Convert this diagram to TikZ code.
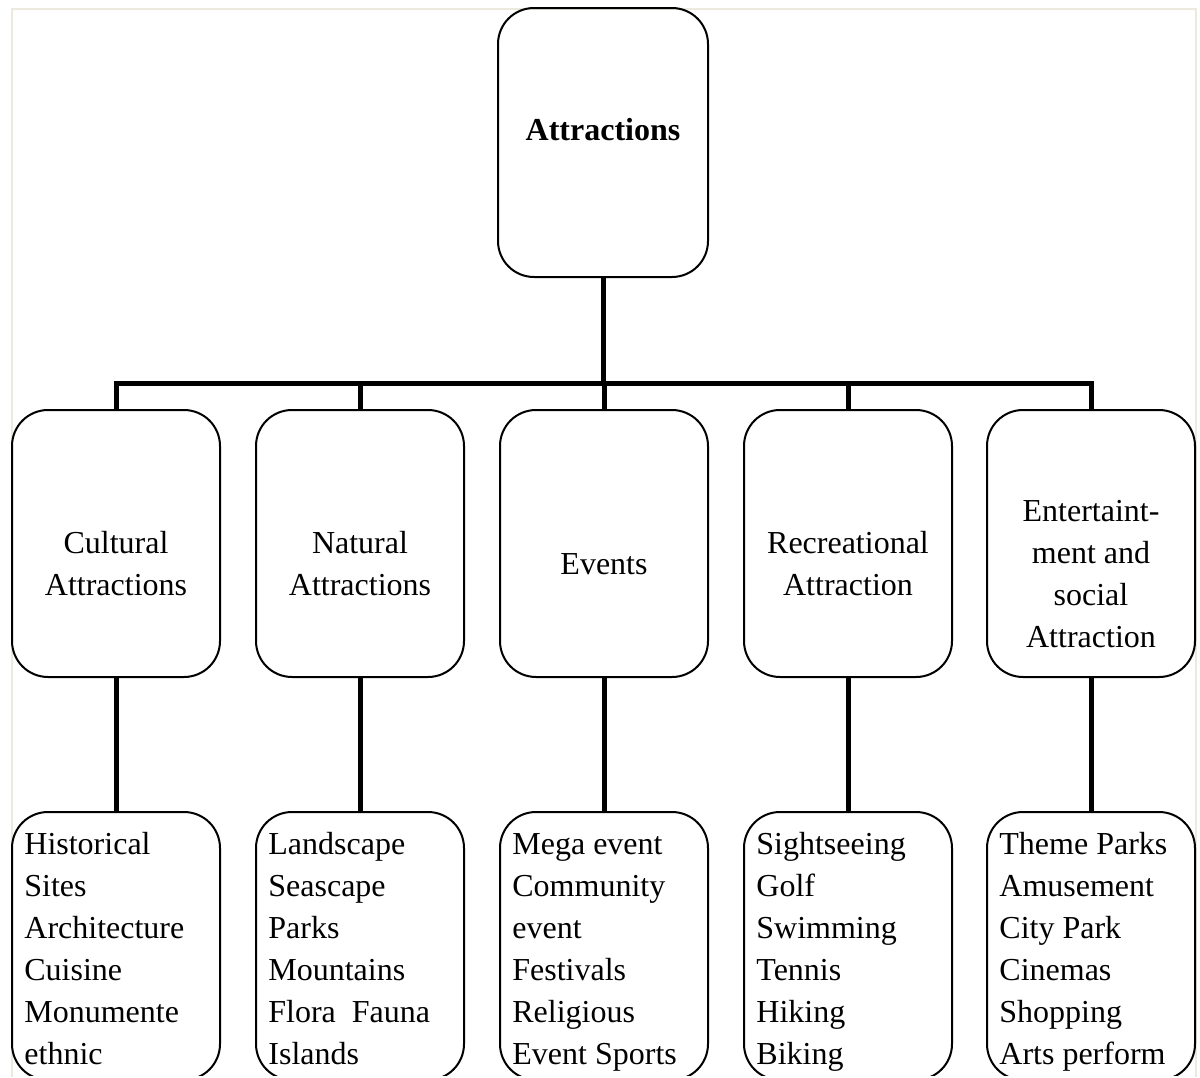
\documentclass[tikz,border=0pt]{standalone}
\usepackage{fontspec}
\setmainfont{Liberation Serif}
\definecolor{framec}{RGB}{236,234,220}
\begin{document}
\begin{tikzpicture}[x=0.5pt,y=-0.5pt,
  box/.style={draw,line width=1pt,rounded corners=18pt,inner sep=0pt},
  midbox/.style={box,minimum width=104pt,minimum height=133.5pt},
  lowbox/.style={box,minimum width=104pt,minimum height=134pt},
  conn/.style={line width=2.5pt,line join=miter},
  txt/.style={inner sep=0pt,font=\fontsize{16pt}{21pt}\selectfont},
  midtxt/.style={txt,align=center,anchor=north},
  lowtxt/.style={txt,align=left,anchor=north west}]
\useasboundingbox (0,0) rectangle (1200,1077);
\draw[framec,line width=1pt] (11.5,1077) -- (11.5,8.5) -- (1195.5,8.5) -- (1195.5,1077);

% root
\node[box,minimum width=105pt,minimum height=134.5pt] (top) at (603,142.5) {};
\node[txt,anchor=north,font=\fontsize{16pt}{21pt}\selectfont\bfseries] (topt) at (603,111.1) {\strut Attractions};

% categories
\node[midbox] (c1) at (116,543.5) {};
\node[midbox] (c2) at (360,543.5) {};
\node[midbox] (c3) at (604,543.5) {};
\node[midbox] (c4) at (848,543.5) {};
\node[midbox] (c5) at (1091,543.5) {};
\node[midtxt] (c1t) at (116,523.6) {\strut Cultural\\Attractions};
\node[midtxt] (c2t) at (360,523.6) {\strut Natural\\Attractions};
\node[midtxt] (c3t) at (604,545.1) {\strut Events};
\node[midtxt] (c4t) at (848,523.6) {\strut Recreational\\Attraction};
\node[midtxt] (c5t) at (1091,491.6) {\strut Entertaint-\\ment and\\social\\Attraction};

% item boxes (cut at the bottom edge)
\begin{scope}
\clip (0,0) rectangle (1200,1075);
\node[lowbox] (b1) at (116,946) {};
\node[lowbox] (b2) at (360,946) {};
\node[lowbox] (b3) at (604,946) {};
\node[lowbox] (b4) at (848,946) {};
\node[lowbox] (b5) at (1091,946) {};
\node[lowtxt] (b1t) at (24,824.6) {\strut Historical\\Sites\\Architecture\\Cuisine\\Monumente\\ethnic};
\node[lowtxt] (b2t) at (268,824.6) {\strut Landscape\\Seascape\\Parks\\Mountains\\Flora\ \ Fauna\\Islands};
\node[lowtxt] (b3t) at (512,824.6) {\strut Mega event\\Community\\event\\Festivals\\Religious\\Event Sports};
\node[lowtxt] (b4t) at (756,824.6) {\strut Sightseeing\\Golf\\Swimming\\Tennis\\Hiking\\Biking};
\node[lowtxt] (b5t) at (999,824.6) {\strut Theme Parks\\Amusement\\City Park\\Cinemas\\Shopping\\Arts perform};
\end{scope}

% connectors
\coordinate (bus) at (604,383);
\draw[conn] (top.south) -- (top.south |- bus);
\draw[conn] (c1.north) -- (c1.north |- bus) -- (c5.north |- bus) -- (c5.north);
\draw[conn] (c2.north |- bus) -- (c2.north);
\draw[conn] (c3.north |- bus) -- (c3.north);
\draw[conn] (c4.north |- bus) -- (c4.north);
\draw[conn] (c1.south) -- (b1.north);
\draw[conn] (c2.south) -- (b2.north);
\draw[conn] (c3.south) -- (b3.north);
\draw[conn] (c4.south) -- (b4.north);
\draw[conn] (c5.south) -- (b5.north);
\end{tikzpicture}
\end{document}
